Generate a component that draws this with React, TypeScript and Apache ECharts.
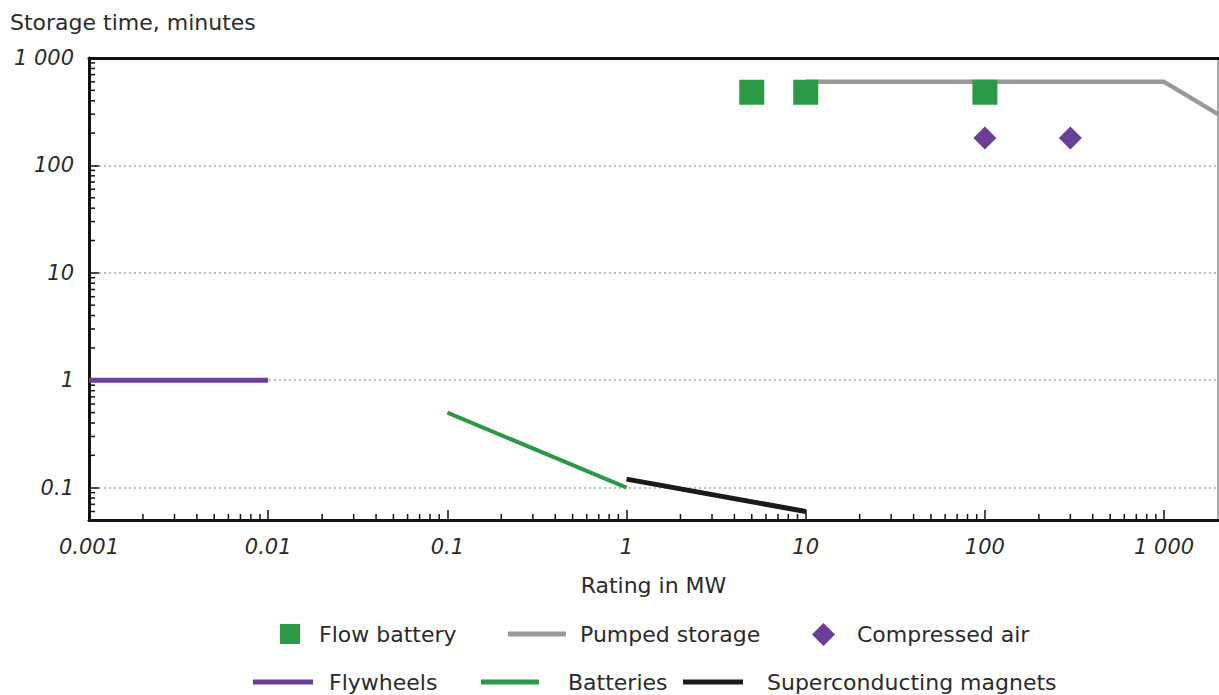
import React, { useEffect, useRef } from "react";
import * as echarts from "echarts";

// ---- data ----
const flowBattery: [number, number][] = [[5, 480], [10, 480], [100, 480]];
const pumpedStorage: [number, number][] = [[10, 600], [1000, 600], [2000, 300]];
const compressedAir: [number, number][] = [[100, 180], [300, 180]];
const flywheels: [number, number][] = [[0.001, 1], [0.01, 1]];
const batteries: [number, number][] = [[0.1, 0.5], [1, 0.1]];
const superconducting: [number, number][] = [[1, 0.12], [10, 0.06]];

const xTickLabels = ["0.001", "0.01", "0.1", "1", "10", "100", "1 000"];
const xTickExps = [-3, -2, -1, 0, 1, 2, 3];
const yTickLabels = ["0.1", "1", "10", "100", "1 000"];
const yTickExps = [-1, 0, 1, 2, 3];

const X_MIN = 0.001;
const X_MAX = 2000;
const Y_MIN = 0.05;
const Y_MAX = 1000;

const minorMultipliers = [2, 3, 4, 5, 6, 7, 8, 9];
const xDecades = [0.001, 0.01, 0.1, 1, 10, 100, 1000];
const yDecades = [0.01, 0.1, 1, 10, 100];

const xMinor: number[] = [];
xDecades.forEach((d) => minorMultipliers.forEach((m) => {
  const v = +(d * m).toPrecision(6);
  if (v > X_MIN && v < X_MAX) xMinor.push(v);
}));
const yMinor: number[] = [];
yDecades.forEach((d) => minorMultipliers.forEach((m) => {
  const v = +(d * m).toPrecision(6);
  if (v > Y_MIN && v < Y_MAX) yMinor.push(v);
}));

const FONT = "'DejaVu Sans', sans-serif";
const TXT = "#2b2b2b";

const makeLabel = (labels: string[], exps: number[]) => (v: number) => {
  const e = Math.log10(v);
  const r = Math.round(e);
  if (Math.abs(e - r) > 1e-6) return "";
  const i = exps.indexOf(r);
  return i >= 0 ? labels[i] : "";
};

const legendItem = (data: any, left: number, top: number, w: number, h: number, pad: number) => ({
  padding: 0,
  itemGap: 0,
  selectedMode: false,
  data: [data],
  left,
  top,
  itemWidth: w,
  itemHeight: h,
  textStyle: { fontFamily: FONT, fontSize: 22, color: TXT, padding: [0, 0, 0, pad] },
});

export default function App() {
  const ref = useRef<HTMLDivElement>(null);
  useEffect(() => {
    document.body.style.margin = "0";
    const chart = echarts.init(ref.current!, null, { renderer: "svg" });
    chart.setOption({
      animation: false,
      backgroundColor: "#fff",
      title: {
        text: "Storage time, minutes",
        left: 5,
        top: 6,
        textStyle: { fontFamily: FONT, fontSize: 22, fontWeight: "normal", color: TXT },
      },
      grid: {
        left: 89,
        right: 1,
        top: 58,
        bottom: 175,
        show: true,
        borderColor: "#555",
        borderWidth: 1,
      },
      legend: [
        legendItem({ name: "Flow battery", icon: "rect" }, 280, 623, 20, 20, 14),
        legendItem({ name: "Pumped storage", icon: "rect" }, 508, 623, 58, 5, 9),
        legendItem({ name: "Compressed air", icon: "diamond" }, 812, 623, 23, 23, 17),
        legendItem({ name: "Flywheels", icon: "rect" }, 253, 671, 60, 5, 11),
        legendItem({ name: "Batteries", icon: "rect" }, 481, 671, 58, 5, 24),
        legendItem({ name: "Superconducting magnets", icon: "rect" }, 683, 671, 60, 5, 19),
      ],
      xAxis: [
        {
          type: "log",
          logBase: 10,
          min: X_MIN,
          max: X_MAX,
          name: "Rating in MW",
          nameLocation: "middle",
          nameGap: 54,
          nameTextStyle: { fontFamily: FONT, fontSize: 22, color: TXT },
          axisLine: { show: true, lineStyle: { color: "#111", width: 3 } },
          axisTick: { show: true, inside: true, length: 10, lineStyle: { color: "#111", width: 1.5 } },
          axisLabel: {
            margin: 16,
            fontFamily: FONT,
            fontStyle: "italic",
            fontSize: 21,
            color: TXT,
            showMaxLabel: false,
            formatter: makeLabel(xTickLabels, xTickExps),
          },
          splitLine: { show: false },
        },
        {
          type: "log",
          logBase: 10,
          min: X_MIN,
          max: X_MAX,
          position: "top",
          axisLine: { show: true, lineStyle: { color: "#111", width: 3 } },
          axisTick: { show: false },
          axisLabel: { show: false },
          splitLine: { show: false },
        },
      ],
      yAxis: {
        type: "log",
        logBase: 10,
        min: Y_MIN,
        max: Y_MAX,
        axisLine: { show: true, lineStyle: { color: "#111", width: 3 } },
        axisTick: { show: true, inside: true, length: 10, lineStyle: { color: "#111", width: 1.5 } },
        axisLabel: {
          margin: 15,
          fontFamily: FONT,
          fontStyle: "italic",
          fontSize: 21,
          color: TXT,
          showMinLabel: false,
          formatter: makeLabel(yTickLabels, yTickExps),
        },
        splitLine: { show: true, lineStyle: { color: "#aaa", type: [2, 3], width: 1.5 } },
      },
      series: [
        {
          name: "xMinorTicks",
          type: "custom",
          silent: true,
          clip: false,
          data: xMinor.map((v) => [v, Y_MIN]),
          renderItem: (_p: any, api: any) => {
            const pt = api.coord([api.value(0), api.value(1)]);
            return {
              type: "line",
              shape: { x1: pt[0], y1: pt[1], x2: pt[0], y2: pt[1] - 6 },
              style: { stroke: "#111", lineWidth: 1.5 },
            };
          },
          z: 1,
        },
        {
          name: "yMinorTicks",
          type: "custom",
          silent: true,
          clip: false,
          data: yMinor.map((v) => [X_MIN, v]),
          renderItem: (_p: any, api: any) => {
            const pt = api.coord([api.value(0), api.value(1)]);
            return {
              type: "line",
              shape: { x1: pt[0], y1: pt[1], x2: pt[0] + 6, y2: pt[1] },
              style: { stroke: "#111", lineWidth: 1.5 },
            };
          },
          z: 1,
        },
        {
          name: "Pumped storage",
          type: "line",
          data: pumpedStorage,
          symbol: "none",
          lineStyle: { color: "#999999", width: 4.5 },
          itemStyle: { color: "#999999" },
          z: 2,
        },
        {
          name: "Flow battery",
          type: "scatter",
          data: flowBattery,
          symbol: "rect",
          symbolSize: 25,
          itemStyle: { color: "#2a9a46", opacity: 1 },
          z: 3,
        },
        {
          name: "Compressed air",
          type: "scatter",
          data: compressedAir,
          symbol: "diamond",
          symbolSize: 23,
          itemStyle: { color: "#6a3f98", opacity: 1 },
          z: 3,
        },
        {
          name: "Flywheels",
          type: "line",
          data: flywheels,
          symbol: "none",
          lineStyle: { color: "#6b3f97", width: 5 },
          itemStyle: { color: "#6b3f97" },
          z: 3,
        },
        {
          name: "Batteries",
          type: "line",
          data: batteries,
          symbol: "none",
          lineStyle: { color: "#2a9a46", width: 4 },
          itemStyle: { color: "#2a9a46" },
          z: 3,
        },
        {
          name: "Superconducting magnets",
          type: "line",
          data: superconducting,
          symbol: "none",
          lineStyle: { color: "#1a1a1a", width: 5 },
          itemStyle: { color: "#1a1a1a" },
          z: 3,
        },
      ],
    });
    return () => chart.dispose();
  }, []);
  return <div ref={ref} style={{ width: 1219, height: 695 }} />;
}
